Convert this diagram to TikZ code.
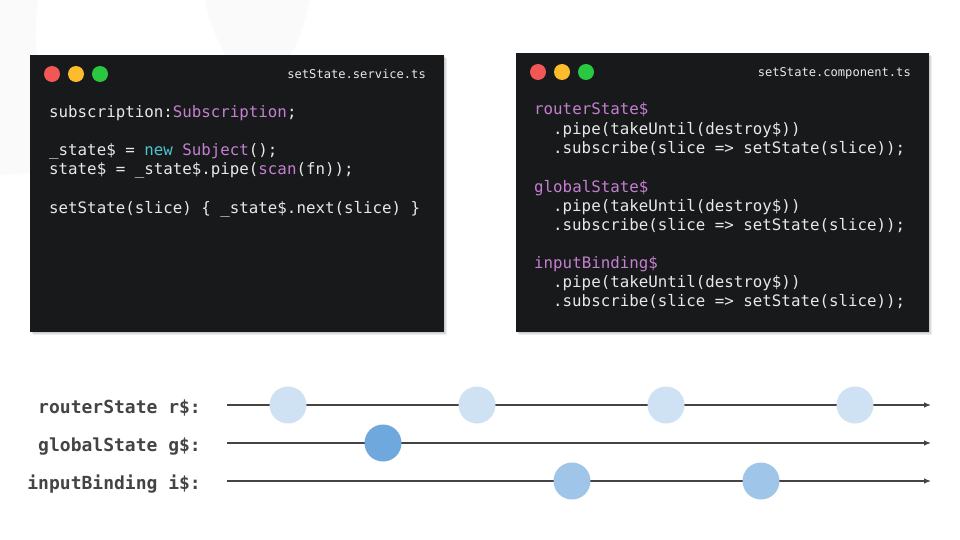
\documentclass[tikz,border=0pt]{standalone}
\usepackage{fontspec}
\setmonofont{DejaVu Sans Mono}
\usetikzlibrary{arrows.meta}
\definecolor{winbg}{HTML}{18191B}
\definecolor{codew}{HTML}{E8E8E8}
\definecolor{purp}{HTML}{C47FD0}
\definecolor{cyanc}{HTML}{4FC3D0}
\definecolor{dotred}{HTML}{F25656}
\definecolor{dotyel}{HTML}{FDBC2C}
\definecolor{dotgrn}{HTML}{2AC840}
\definecolor{evlight}{HTML}{CFE2F3}
\definecolor{evdark}{HTML}{6FA8DC}
\definecolor{evmid}{HTML}{9FC5E8}
\definecolor{lblc}{HTML}{444444}
\definecolor{wmark}{HTML}{FAFAFA}
\tikzset{
  win/.style={fill=winbg, draw=none, inner sep=0pt},
  shad/.style={fill=black, fill opacity=0.07, draw=none},
  dot/.style={circle, minimum size=16pt, inner sep=0pt, draw=none},
  codeline/.style={anchor=base west, inner sep=0pt, text=codew, font=\ttfamily\fontsize{15.8}{19}\selectfont},
  titletext/.style={anchor=base east, inner sep=0pt, text=codew, font=\ttfamily\fontsize{12.1}{14}\selectfont},
  lbl/.style={anchor=base east, inner sep=0pt, text=lblc, font=\ttfamily\bfseries\fontsize{18}{20}\selectfont},
  timeline/.style={draw=lblc, line width=1.2pt, -{Latex[length=7pt,width=5.5pt]}},
  ev/.style={circle, minimum size=37pt, inner sep=0pt, draw=none},
}
\begin{document}
\begin{tikzpicture}[x=1pt,y=-1pt]
\useasboundingbox (0,0) rectangle (960,540);
\fill[white] (0,0) rectangle (960,540);
% faint watermark
\fill[wmark] (0,0) -- (38,0) .. controls (30,60) and (45,120) .. (70,170) -- (0,175) -- cycle;
\fill[wmark] (205,0) -- (310,0) .. controls (305,20) and (300,40) .. (290,55) -- (225,55) .. controls (215,35) and (208,18) .. (205,0) -- cycle;
% window shadows
\foreach \d in {1,2,3}{
  \fill[shad] (30+\d,55+\d) rectangle (444+\d,332+\d);
  \fill[shad] (516+\d,53+\d) rectangle (929+\d,332+\d);
}
% left window
\node[win, minimum width=414pt, minimum height=277pt, anchor=north west] (lwin) at (30,55) {};
\node[dot, fill=dotred] (lred) at (52,74) {};
\node[dot, fill=dotyel] (lyel) at (76,74) {};
\node[dot, fill=dotgrn] (lgrn) at (100,74) {};
\node[titletext] (ltitle) at (426,79) {setState.service.ts};
\node[codeline] (l1) at (49,118) {subscription:\textcolor{purp}{Subscription};};
\node[codeline] (l3) at (49,156) {\_state\$ = \textcolor{cyanc}{new} \textcolor{purp}{Subject}();};
\node[codeline] (l4) at (49,175) {state\$ = \_state\$.pipe(\textcolor{purp}{scan}(fn));};
\node[codeline] (l6) at (49,213) {setState(slice) \{ \_state\$.next(slice) \}};
% right window
\node[win, minimum width=413pt, minimum height=279pt, anchor=north west] (rwin) at (516,53) {};
\node[dot, fill=dotred] (rred) at (538,72) {};
\node[dot, fill=dotyel] (ryel) at (562,72) {};
\node[dot, fill=dotgrn] (rgrn) at (586,72) {};
\node[titletext] (rtitle) at (911,77) {setState.component.ts};
\node[codeline, text=purp] (r1) at (534,115) {routerState\$};
\node[codeline] (r2) at (553,135) {.pipe(takeUntil(destroy\$))};
\node[codeline] (r3) at (553,154) {.subscribe(slice => setState(slice));};
\node[codeline, text=purp] (r4) at (534,192) {globalState\$};
\node[codeline] (r5) at (553,211) {.pipe(takeUntil(destroy\$))};
\node[codeline] (r6) at (553,230) {.subscribe(slice => setState(slice));};
\node[codeline, text=purp] (r7) at (534,268) {inputBinding\$};
\node[codeline] (r8) at (553,287) {.pipe(takeUntil(destroy\$))};
\node[codeline] (r9) at (553,306) {.subscribe(slice => setState(slice));};
% timelines
\node[lbl] (lr) at (201,413) {routerState r\$:};
\node[lbl] (lg) at (201,451) {globalState g\$:};
\node[lbl] (li) at (201,489) {inputBinding i\$:};
\coordinate (rs) at (227,405); \coordinate (re) at (931,405);
\coordinate (gs) at (227,443); \coordinate (ge) at (931,443);
\coordinate (is) at (227,481); \coordinate (ie) at (931,481);
\draw[timeline] (rs) -- (re);
\draw[timeline] (gs) -- (ge);
\draw[timeline] (is) -- (ie);
\node[ev, fill=evlight] (r1e) at (288,405) {};
\node[ev, fill=evlight] (r2e) at (477,405) {};
\node[ev, fill=evlight] (r3e) at (666,405) {};
\node[ev, fill=evlight] (r4e) at (855,405) {};
\node[ev, fill=evdark] (g1e) at (383,443) {};
\node[ev, fill=evmid] (i1e) at (572,481) {};
\node[ev, fill=evmid] (i2e) at (761,481) {};
\end{tikzpicture}
\end{document}
